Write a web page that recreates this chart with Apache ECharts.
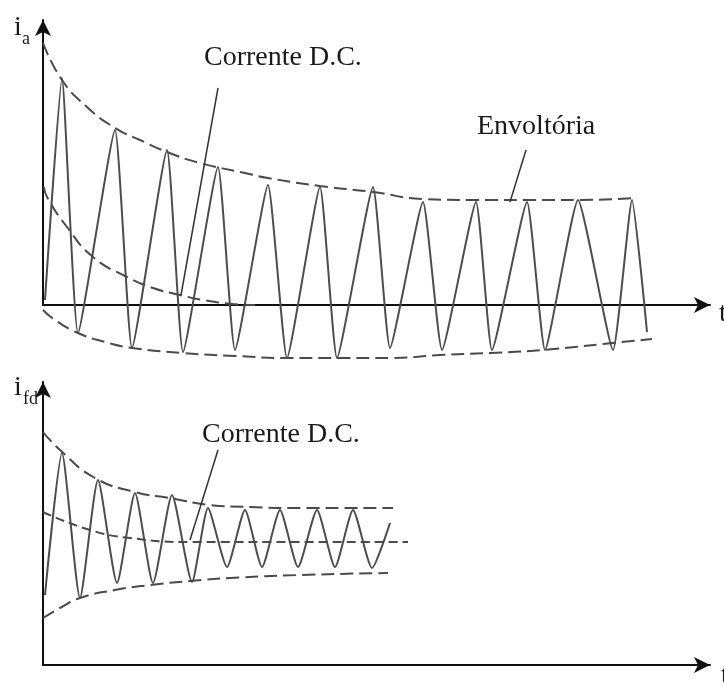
<!DOCTYPE html>
<html>
<head>
<meta charset="utf-8">
<script src="https://cdn.jsdelivr.net/npm/echarts@6/dist/echarts.min.js"></script>
<style>
  html, body { margin: 0; padding: 0; background: #fff; }
  #chart { width: 724px; height: 687px; }
</style>
</head>
<body>
<div id="chart"></div>
<script>
// Armature current i_a: oscillation, its envelopes and the decaying DC component
const armatureWave = [[2,5],[19,227],[35,-28],[72,175],[89,-43],[124,155],[140,-47],[175,138],[192,-45],
  [225,120],[244,-53],[277,118],[294,-53],[330,118],[347,-43],[380,103],[399,-45],[433,103],[449,-45],
  [484,103],[502,-45],[535,105],[570,-45],[589,105],[604,-27]];
const armatureUpper = [[0,262],[19,225],[44,198],[72,177],[97,165],[124,153],[157,142],[202,132],[225,127],
  [277,119],[330,113],[380,106],[434,105],[487,105],[537,105],[592,107]];
const armatureLower = [[0,-5],[12,-15],[35,-28],[62,-37],[89,-43],[140,-48],[192,-51],[247,-53],[297,-53],
  [347,-53],[397,-50],[447,-48],[499,-45],[570,-38],[609,-34]];
const armatureDC = [[1,118],[4,108],[24,78],[50,48],[84,28],[110,17],[137,10],[160,5],[190,1],[212,0]];
const armatureDCPointer = [[175,217],[138,10]];
const envelopePointer = [[483,155],[467,103]];

// Field current i_fd
const fieldWave = [[2,70],[19,212],[37,67],[55,185],[74,82],[92,172],[110,82],[129,170],[149,83],[165,157],
  [184,98],[202,155],[219,98],[237,155],[255,98],[274,155],[292,98],[310,155],[329,97],[347,142]];
const fieldUpper = [[0,233],[17,215],[52,187],[92,173],[127,167],[167,160],[207,158],[257,157],[350,157]];
const fieldDC = [[0,153],[47,135],[87,127],[147,123],[257,123],[365,123]];
const fieldLower = [[0,47],[17,57],[37,67],[72,75],[107,80],[147,84],[187,87],[257,90],[345,92]];
const fieldDCPointer = [[175,215],[147,125]];

const labels = {
  dc: 'Corrente D.C.',
  envelope: 'Envoltória'
};

const axisLine = {
  show: true,
  symbol: ['none', 'arrow'],
  symbolSize: [12, 16],
  lineStyle: { color: '#111', width: 2 }
};
function makeX(idx) {
  return { type: 'value', gridIndex: idx, min: 0, max: 667, axisLine: axisLine,
    axisTick: { show: false }, axisLabel: { show: false }, splitLine: { show: false } };
}
function makeY(idx, max) {
  return { type: 'value', gridIndex: idx, min: 0, max: max, axisLine: axisLine,
    axisTick: { show: false }, axisLabel: { show: false }, splitLine: { show: false } };
}
function line(data, idx, style, smooth) {
  return { type: 'line', xAxisIndex: idx, yAxisIndex: idx, data: data, showSymbol: false,
    clip: false, smooth: smooth || 0, lineStyle: style, silent: true };
}
const waveStyle = { color: '#4d4d4d', width: 2 };
const dashStyle = { color: '#4a4a4a', width: 2, type: [13, 6] };
const shortDash = { color: '#4a4a4a', width: 2, type: [9, 5] };
const pointerStyle = { color: '#333', width: 1.5 };

const serif = '"Liberation Serif", "DejaVu Serif", serif';
function txt(s, x, y, size) {
  return { type: 'text', x: x, y: y, style: { text: s, font: size + 'px ' + serif, fill: '#1a1a1a',
    textVerticalAlign: 'middle' } };
}

const chart = echarts.init(document.getElementById('chart'), null, { renderer: 'canvas' });
chart.setOption({
  animation: false,
  backgroundColor: '#fff',
  grid: [
    { left: 43, top: 20, width: 667, height: 285 },
    { left: 43, top: 382, width: 667, height: 283 }
  ],
  xAxis: [makeX(0), makeX(1)],
  yAxis: [makeY(0, 285), makeY(1, 283)],
  series: [
    line(armatureWave, 0, waveStyle, 0.15),
    line(armatureUpper, 0, dashStyle, true),
    line(armatureLower, 0, dashStyle, true),
    line(armatureDC, 0, dashStyle, true),
    line(armatureDCPointer, 0, pointerStyle),
    line(envelopePointer, 0, pointerStyle),
    line(fieldWave, 1, waveStyle, 0.2),
    line(fieldUpper, 1, dashStyle, true),
    line(fieldDC, 1, shortDash, true),
    line(fieldLower, 1, dashStyle, true),
    line(fieldDCPointer, 1, pointerStyle)
  ],
  graphic: [
    txt('i', 14, 28, 28),
    txt('a', 22, 39, 18),
    txt('t', 719, 314, 28),
    txt(labels.dc, 204, 58, 28),
    txt(labels.envelope, 477, 127, 28),
    txt('i', 14, 388, 28),
    txt('fd', 23, 399, 18),
    txt(labels.dc, 202, 435, 28),
    txt('t', 721, 676, 28)
  ]
});
</script>
</body>
</html>
